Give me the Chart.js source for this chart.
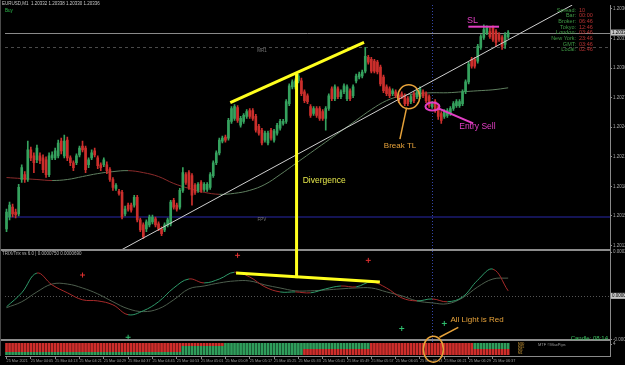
<!DOCTYPE html>
<html>
<head>
<meta charset="utf-8">
<script src="https://cdn.jsdelivr.net/npm/chart.js@4.4.1/dist/chart.umd.min.js"></script>
<style>
  html, body { margin: 0; padding: 0; background: #000; }
  #wrap { width: 625px; height: 365px; position: relative; }
</style>
</head>
<body>
<div id="wrap"><canvas id="chart"></canvas></div>
<script>
// ---- EURUSD M1 candles ----
const openP = [1.20137,1.20149,1.20159,1.20154,1.20152,1.20187,1.20192,1.20187,1.20217,1.20211,
1.20207,1.20211,1.20209,1.20207,1.20192,1.20209,1.20209,1.20211,1.20226,1.20211,
1.20227,1.20209,1.20204,1.20204,1.20212,1.20221,1.20219,1.20202,1.20209,1.20216,
1.20209,1.20202,1.20202,1.20202,1.20197,1.20187,1.20178,1.20175,1.20174,1.20152,
1.20161,1.20161,1.20161,1.20169,1.20146,1.20141,1.20137,1.20141,1.20144,1.20147,
1.20142,1.20137,1.20136,1.20141,1.20142,1.20166,1.20161,1.20159,1.20176,1.20192,
1.20194,1.20191,1.20181,1.20176,1.20184,1.20177,1.20177,1.20179,1.20191,1.20204,
1.20214,1.20226,1.20230,1.20229,1.20246,1.20249,1.20260,1.20242,1.20246,1.20251,
1.20257,1.20257,1.20251,1.20241,1.20237,1.20227,1.20224,1.20237,1.20227,1.20234,
1.20239,1.20244,1.20246,1.20264,1.20281,1.20281,1.20287,1.20287,1.20276,1.20272,
1.20261,1.20254,1.20259,1.20259,1.20256,1.20249,1.20259,1.20279,1.20269,1.20279,
1.20271,1.20276,1.20269,1.20277,1.20272,1.20287,1.20291,1.20292,1.20297,1.20311,
1.20309,1.20307,1.20306,1.20301,1.20291,1.20281,1.20279,1.20274,1.20276,1.20272,
1.20274,1.20272,1.20269,1.20266,1.20274,1.20271,1.20271,1.20276,1.20274,1.20271,
1.20261,1.20266,1.20261,1.20254,1.20251,1.20252,1.20254,1.20259,1.20262,1.20262,
1.20264,1.20276,1.20286,1.20309,1.20309,1.20307,1.20321,1.20331,1.20336,1.20337,
1.20341,1.20337,1.20334,1.20331,1.20324,1.20332];
const highP = [1.20157,1.20164,1.20162,1.20157,1.20182,1.20202,1.20195,1.20226,1.20220,1.20214,
1.20222,1.20214,1.20212,1.20210,1.20214,1.20215,1.20219,1.20227,1.20229,1.20232,
1.20230,1.20211,1.20206,1.20213,1.20221,1.20226,1.20221,1.20209,1.20217,1.20219,
1.20211,1.20204,1.20209,1.20205,1.20199,1.20189,1.20183,1.20177,1.20176,1.20160,
1.20163,1.20163,1.20171,1.20171,1.20148,1.20143,1.20146,1.20151,1.20151,1.20149,
1.20144,1.20139,1.20143,1.20148,1.20166,1.20168,1.20163,1.20178,1.20199,1.20194,
1.20196,1.20193,1.20183,1.20184,1.20186,1.20184,1.20184,1.20194,1.20206,1.20216,
1.20229,1.20231,1.20232,1.20249,1.20261,1.20263,1.20262,1.20251,1.20254,1.20258,
1.20259,1.20259,1.20253,1.20243,1.20239,1.20236,1.20236,1.20239,1.20238,1.20244,
1.20248,1.20248,1.20268,1.20284,1.20288,1.20289,1.20294,1.20290,1.20278,1.20274,
1.20263,1.20261,1.20261,1.20261,1.20258,1.20261,1.20274,1.20281,1.20283,1.20281,
1.20278,1.20284,1.20283,1.20279,1.20283,1.20294,1.20296,1.20298,1.20321,1.20313,
1.20311,1.20309,1.20308,1.20303,1.20293,1.20283,1.20281,1.20279,1.20278,1.20274,
1.20276,1.20274,1.20271,1.20273,1.20276,1.20278,1.20281,1.20278,1.20276,1.20273,
1.20266,1.20268,1.20263,1.20256,1.20258,1.20259,1.20261,1.20266,1.20268,1.20268,
1.20278,1.20288,1.20306,1.20311,1.20311,1.20324,1.20334,1.20344,1.20343,1.20341,
1.20343,1.20339,1.20336,1.20333,1.20336,1.20338];
const lowP = [1.20134,1.20146,1.20149,1.20148,1.20150,1.20184,1.20184,1.20185,1.20206,1.20194,
1.20204,1.20203,1.20194,1.20189,1.20190,1.20207,1.20207,1.20209,1.20213,1.20209,
1.20206,1.20201,1.20196,1.20202,1.20210,1.20215,1.20194,1.20199,1.20207,1.20210,
1.20198,1.20196,1.20200,1.20193,1.20185,1.20176,1.20176,1.20171,1.20147,1.20150,
1.20155,1.20154,1.20159,1.20144,1.20134,1.20127,1.20134,1.20139,1.20142,1.20139,
1.20135,1.20130,1.20134,1.20139,1.20140,1.20157,1.20155,1.20157,1.20174,1.20182,
1.20177,1.20161,1.20172,1.20174,1.20174,1.20175,1.20175,1.20177,1.20189,1.20202,
1.20212,1.20224,1.20225,1.20227,1.20244,1.20247,1.20245,1.20240,1.20244,1.20249,
1.20249,1.20247,1.20235,1.20232,1.20222,1.20225,1.20222,1.20227,1.20225,1.20232,
1.20237,1.20242,1.20244,1.20262,1.20279,1.20279,1.20285,1.20272,1.20265,1.20264,
1.20250,1.20252,1.20250,1.20247,1.20247,1.20237,1.20257,1.20267,1.20267,1.20269,
1.20269,1.20274,1.20267,1.20267,1.20270,1.20285,1.20289,1.20290,1.20295,1.20304,
1.20295,1.20295,1.20294,1.20282,1.20275,1.20272,1.20270,1.20272,1.20270,1.20265,
1.20269,1.20262,1.20262,1.20264,1.20265,1.20269,1.20269,1.20270,1.20265,1.20260,
1.20259,1.20255,1.20248,1.20244,1.20249,1.20250,1.20252,1.20257,1.20260,1.20260,
1.20262,1.20274,1.20284,1.20300,1.20300,1.20305,1.20319,1.20329,1.20334,1.20330,
1.20327,1.20322,1.20327,1.20319,1.20320,1.20330];
const closeP = [1.20154,1.20161,1.20152,1.20151,1.20179,1.20199,1.20187,1.20217,1.20209,1.20204,
1.20219,1.20206,1.20197,1.20192,1.20211,1.20212,1.20216,1.20224,1.20216,1.20226,
1.20209,1.20204,1.20199,1.20211,1.20219,1.20217,1.20197,1.20207,1.20214,1.20212,
1.20201,1.20199,1.20207,1.20196,1.20187,1.20179,1.20181,1.20173,1.20149,1.20157,
1.20157,1.20156,1.20169,1.20146,1.20136,1.20129,1.20144,1.20149,1.20149,1.20141,
1.20137,1.20132,1.20141,1.20146,1.20164,1.20159,1.20157,1.20176,1.20194,1.20184,
1.20179,1.20171,1.20174,1.20182,1.20176,1.20182,1.20182,1.20192,1.20204,1.20214,
1.20227,1.20229,1.20227,1.20247,1.20259,1.20261,1.20247,1.20249,1.20252,1.20256,
1.20251,1.20249,1.20237,1.20234,1.20224,1.20234,1.20234,1.20229,1.20236,1.20242,
1.20246,1.20246,1.20266,1.20282,1.20286,1.20287,1.20292,1.20274,1.20267,1.20266,
1.20252,1.20259,1.20252,1.20249,1.20249,1.20259,1.20272,1.20269,1.20281,1.20271,
1.20276,1.20282,1.20281,1.20269,1.20281,1.20292,1.20294,1.20296,1.20312,1.20306,
1.20297,1.20297,1.20296,1.20284,1.20277,1.20274,1.20272,1.20277,1.20272,1.20267,
1.20271,1.20264,1.20264,1.20271,1.20267,1.20276,1.20279,1.20272,1.20267,1.20262,
1.20264,1.20257,1.20251,1.20247,1.20256,1.20257,1.20259,1.20264,1.20266,1.20266,
1.20276,1.20286,1.20304,1.20302,1.20302,1.20322,1.20332,1.20339,1.20341,1.20332,
1.20329,1.20326,1.20329,1.20322,1.20334,1.20336];

// moving average, one value every 5 bars
const maStep = 5;
const maValues = [1.20189,1.20188,1.20187,1.20186,1.20187,1.20190,1.20193,1.20195,1.20196,1.20194,
1.20190,1.20183,1.20178,1.20174,1.20172,1.20173,1.20176,1.20182,1.20192,1.20203,
1.20214,1.20225,1.20236,1.20247,1.20258,1.20267,1.20272,1.20274,1.20275,1.20275,
1.20276,1.20277,1.20278,1.20280];

// TRIX window, one value every 5 bars
const trixStep = 5;
const trixFast = [-0.000050,0.000014,0.000104,0.000050,0.000014,-0.000018,-0.000023,-0.000041,-0.000086,-0.000068,
-0.000027,0.000036,0.000077,0.000059,0.000077,0.000108,0.000086,0.000041,0.000018,0.000018,
0.000014,0.000032,0.000045,0.000041,0.000063,0.000036,-0.000009,-0.000023,-0.000014,-0.000027,
-0.000005,0.000072,0.000122,0.000023];
const trixSlow = [-0.000054,-0.000027,0.000018,0.000054,0.000054,0.000036,0.000009,-0.000027,-0.000059,-0.000072,
-0.000059,-0.000018,0.000032,0.000045,0.000059,0.000068,0.000068,0.000050,0.000036,0.000023,
0.000023,0.000027,0.000032,0.000036,0.000036,0.000018,0,-0.000023,-0.000032,-0.000036,
-0.000009,0.000041,0.000077,0.000081];
const sellBars = [25, 76, 119];
const sellVals = [0.000095, 0.000185, 0.000162];
const buyBars = [40, 130, 144];
const buyVals = [-0.000189, -0.000149, -0.000126];

// MTF light strip, runs of [colour, bars], bottom row first
const mtfRuns = [
  [['g', 98], ['r', 68]],
  [['r', 58], ['g', 40], ['r', 68]],
  [['r', 58], ['g', 62], ['r', 34], ['g', 12]],
  [['r', 72], ['g', 48], ['r', 34], ['g', 12]]
];
const mtfNames = ['M1', 'M5', 'M15', 'M30'];

// axes
const priceTicks = [1.20360,1.20345,1.20330,1.20315,1.20300,1.20285,1.20270,1.20255,1.20240,
1.20225,1.20210,1.20195,1.20180,1.20165,1.20150,1.20135,1.20120];
const trixTicks = [0.0002, 0, -0.0002];
const timeLabels = ['25 Mar 2021','25 Mar 04:05','25 Mar 04:13','25 Mar 04:21','25 Mar 04:29',
'25 Mar 04:37','25 Mar 04:45','25 Mar 04:53','25 Mar 05:01','25 Mar 05:09','25 Mar 05:17',
'25 Mar 05:25','25 Mar 05:33','25 Mar 05:41','25 Mar 05:49','25 Mar 05:57','25 Mar 06:05',
'25 Mar 06:13','25 Mar 06:21','25 Mar 06:29','25 Mar 06:37'];
const labelEvery = 8;

// levels and drawn objects
const mr1Level = 1.20321;
const fpvLevel = 1.20149;
const trendLine = [{x: 38, y: 1.20116}, {x: 186.1, y: 1.20364}];
const sepBar = 140;

const titleText = 'EURUSD,M1  1.20332 1.20338 1.20330 1.20336';
const trixTitle = 'TRIX/Trix vs 6.0 | 0.0000750 0.0000690';
const infoNames = ['Spread:', 'Bar:', 'Broker:', 'Tokyo:', 'London:', 'New York:', 'GMT:', 'Local:'];
const infoValues = ['10', '00:00', '06:46', '12:46', '03:46', '23:46', '03:46', '02:46'];

const upCol = '#35a25e', dnCol = '#cc2f2c';
const FONT = '"Liberation Sans", Arial, sans-serif';

const candleCols = openP.map((o, i) => closeP[i] >= o ? upCol : dnCol);
const bodies = openP.map((o, i) => ({x: i, y: [o, closeP[i]]}));
const wicks = openP.map((o, i) => ({x: i, y: [lowP[i], highP[i]]}));
const maPts = maValues.map((v, i) => ({x: i * maStep, y: v}));
const fastPts = trixFast.map((v, i) => ({x: i * trixStep, y: v}));
const slowPts = trixSlow.map((v, i) => ({x: i * trixStep, y: v}));

function expandRuns(runs) {
  const out = [];
  runs.forEach(([c, n]) => { for (let k = 0; k < n; k++) out.push(c); });
  return out;
}

const mtfSets = mtfRuns.map((runs, r) => {
  const cols = expandRuns(runs);
  return {
    type: 'bar', yAxisID: 'y3', grouped: false, barThickness: 2, order: 5,
    data: cols.map((c, i) => ({x: i, y: [r + 0.45, r + 1.25]})),
    backgroundColor: cols.map(c => c === 'r' ? '#cf2e2b' : '#2f9d5b')
  };
});

function seg(ctx, x1, y1, x2, y2) {
  ctx.beginPath(); ctx.moveTo(x1, y1); ctx.lineTo(x2, y2); ctx.stroke();
}
function txt(ctx, s, x, y, size, color, align) {
  ctx.font = size + 'px ' + FONT;
  ctx.fillStyle = color;
  ctx.textAlign = align || 'left';
  ctx.textBaseline = 'middle';
  ctx.fillText(s, x, y);
}
function ellipse(ctx, cx, cy, rx, ry) {
  ctx.beginPath(); ctx.ellipse(cx, cy, rx, ry, 0, 0, Math.PI * 2); ctx.stroke();
}

const overlay = {
  id: 'overlay',
  beforeDatasetsDraw(chart) {
    const {ctx, chartArea: a, scales: s} = chart;
    ctx.save();
    ctx.lineWidth = 1;
    // MR1 dotted level
    ctx.strokeStyle = '#4a4a4a'; ctx.setLineDash([3, 3]);
    const yM = Math.round(s.y.getPixelForValue(mr1Level)) + 0.5;
    seg(ctx, a.left, yM, a.right, yM);
    // zero level of the TRIX window
    ctx.strokeStyle = '#555'; ctx.setLineDash([1, 2]);
    const y0 = Math.round(s.y2.getPixelForValue(0)) + 0.5;
    seg(ctx, a.left, y0, a.right, y0);
    // period separator
    ctx.strokeStyle = '#3346a8';
    const xs = Math.round(s.x.getPixelForValue(sepBar)) + 0.5;
    seg(ctx, xs, a.top, xs, a.bottom);
    ctx.setLineDash([]);
    // FPV level
    ctx.strokeStyle = '#1b1b72'; ctx.lineWidth = 1.5;
    const yF = s.y.getPixelForValue(fpvLevel);
    seg(ctx, a.left, yF, a.right, yF);
    // bid line
    ctx.strokeStyle = '#8a8a8a'; ctx.lineWidth = 1;
    const yB = Math.round(s.y.getPixelForValue(closeP[closeP.length - 1])) + 0.5;
    seg(ctx, a.left, yB, a.right, yB);
    txt(ctx, 'MR1', s.x.getPixelForValue(84), yM + 3, 4.5, '#777', 'center');
    txt(ctx, 'FPV', s.x.getPixelForValue(84), yF + 3, 4.5, '#777', 'center');
    ctx.restore();
  },
  afterDraw(chart) {
    const {ctx, chartArea: a, scales: s} = chart;
    const X = v => s.x.getPixelForValue(v);
    const P = v => s.y.getPixelForValue(v);
    const I = v => s.y2.getPixelForValue(v);
    const L = v => s.y3.getPixelForValue(v);
    ctx.save();
    // window frames
    ctx.fillStyle = '#8c8c8c';
    ctx.fillRect(0, Math.round(s.y.bottom) - 1, a.right, 2);
    ctx.fillRect(0, Math.round(s.y2.bottom) - 1, a.right, 2);
    ctx.fillStyle = '#4a4a4a';
    ctx.fillRect(0, 0, 1, a.bottom);

    // titles
    txt(ctx, titleText, 2, 4, 4.5, '#c8c8c8');
    txt(ctx, 'Buy', 5, 10.5, 4.5, '#2fbf4f');
    txt(ctx, trixTitle, 2, s.y2.top + 4, 4.5, '#b8b8b8');

    // price label highlight
    const last = closeP[closeP.length - 1];
    const yB = P(last);
    ctx.fillStyle = '#c4c4c4';
    ctx.fillRect(a.right + 1, yB - 3, 15, 6);
    txt(ctx, last.toFixed(5), a.right + 2, yB, 4.5, '#000');
    const y0 = I(0);
    ctx.fillStyle = '#c4c4c4';
    ctx.fillRect(a.right + 1, y0 - 3, 15, 6);
    txt(ctx, '0.00000', a.right + 2, y0, 4.5, '#000');

    // info block
    infoNames.forEach((n, i) => {
      const yy = 10 + i * 5.7;
      txt(ctx, n, 576, yy, 5.5, '#3f9a45', 'right');
      txt(ctx, infoValues[i], 579, yy, 5.5, '#b83232');
    });
    txt(ctx, 'Candle: 08:14', 608, I(-0.000192), 6, '#3cc060', 'right');
    mtfNames.forEach((n, r) => txt(ctx, n, 518, L(r + 0.85), 3.2, '#d9a23a'));
    txt(ctx, 'MTF \u00a9MaxPips', 538, L(3.6), 4, '#9a9a9a');

    // yellow divergence drawing
    ctx.strokeStyle = '#ffff1e'; ctx.lineWidth = 3; ctx.lineCap = 'butt';
    seg(ctx, X(73.6), P(1.20265), X(117.6), P(1.20326));
    seg(ctx, X(95.4), P(1.20295), X(95.4), I(0.000081));
    seg(ctx, X(75.5), I(0.000104), X(122.8), I(0.000063));
    txt(ctx, 'Divergence', X(97.4), P(1.20186), 8.5, '#e6e84a');

    // break of trend line
    ctx.strokeStyle = '#e6a23a'; ctx.lineWidth = 1.5;
    ellipse(ctx, X(132.3), P(1.20271), 11, 12);
    seg(ctx, X(131.6), P(1.20260), X(129.4), P(1.20228));
    txt(ctx, 'Break TL', X(124.1), P(1.20221), 8, '#e6a23a');

    // entry sell + stop loss
    ctx.strokeStyle = '#e23fc4'; ctx.lineWidth = 2;
    ellipse(ctx, X(140.1), P(1.20261), 7, 4);
    seg(ctx, X(142.1), P(1.20259), X(153.5), P(1.20244));
    txt(ctx, 'Entry Sell', X(148.9), P(1.20241), 8.5, '#e23fc4');
    seg(ctx, X(151.9), P(1.20342), X(162), P(1.20342));
    txt(ctx, 'SL', X(151.5), P(1.20348), 9, '#e23fc4');

    // all lights red
    ctx.strokeStyle = '#e6a23a'; ctx.lineWidth = 1.5;
    ellipse(ctx, X(140.4), L(2.3), 10, 13);
    seg(ctx, X(142.4), I(-0.000189), X(148.6), I(-0.000144));
    txt(ctx, 'All Light is Red', X(146), I(-0.000108), 8, '#e6a23a');
    ctx.restore();
  }
};

const gridTick = {drawOnChartArea: false, drawTicks: true, tickLength: 2, color: '#8a8a8a', offset: false};
const tickFont = {family: FONT, size: 4.5};

new Chart(document.getElementById('chart'), {
  type: 'bar',
  data: {
    datasets: [
      {type: 'line', data: trendLine, yAxisID: 'y', borderColor: '#cfcfcf', borderWidth: 1, pointRadius: 0, order: -1},
      {type: 'bar', data: bodies, yAxisID: 'y', backgroundColor: candleCols, barThickness: 2, minBarLength: 1, grouped: false, order: 0},
      {type: 'bar', data: wicks, yAxisID: 'y', backgroundColor: candleCols, barThickness: 1, grouped: false, order: 1},
      {type: 'line', data: maPts, yAxisID: 'y', borderWidth: 1, pointRadius: 0, tension: 0.4, order: 2,
        segment: {borderColor: c => c.p1.parsed.y >= c.p0.parsed.y ? '#5f7f5f' : '#8c2b2b'}},
      {type: 'line', data: slowPts, yAxisID: 'y2', borderColor: '#4d5e4d', borderWidth: 1, pointRadius: 0, tension: 0.4, order: 3},
      {type: 'line', data: fastPts, yAxisID: 'y2', borderWidth: 1, pointRadius: 0, tension: 0.4, order: 2,
        segment: {borderColor: c => c.p1.parsed.y >= c.p0.parsed.y ? '#2f9a6a' : '#a82a2a'}},
      {type: 'line', data: sellBars.map((b, i) => ({x: b, y: sellVals[i]})), yAxisID: 'y2', showLine: false,
        pointStyle: 'cross', pointRadius: 2.5, borderColor: '#e03030', borderWidth: 1, order: 1},
      {type: 'line', data: buyBars.map((b, i) => ({x: b, y: buyVals[i]})), yAxisID: 'y2', showLine: false,
        pointStyle: 'cross', pointRadius: 2.5, borderColor: '#30c070', borderWidth: 1, order: 1},
      ...mtfSets
    ]
  },
  options: {
    responsive: true,
    maintainAspectRatio: false,
    animation: false,
    devicePixelRatio: 1,
    layout: {padding: 0},
    plugins: {legend: {display: false}, tooltip: {enabled: false}},
    scales: {
      x: {
        type: 'linear', min: -0.5, max: 198.5, offset: false,
        afterFit: sc => { sc.height = 9; },
        afterBuildTicks: sc => { sc.ticks = timeLabels.map((t, i) => ({value: i * labelEvery})); },
        grid: {drawOnChartArea: false, drawTicks: true, tickLength: 3, color: '#8a8a8a', offset: false},
        border: {display: true, color: '#8a8a8a'},
        ticks: {font: {family: FONT, size: 3.8}, color: '#9c9c9c', align: 'start', padding: 0, maxRotation: 0, autoSkip: false,
          callback: (v, i) => timeLabels[i]}
      },
      y: {
        type: 'linear', position: 'right', stack: 'win', stackWeight: 248,
        min: 1.20116, max: 1.20364,
        afterFit: sc => { sc.width = 15; },
        afterBuildTicks: sc => { sc.ticks = priceTicks.map(v => ({value: v})); },
        grid: gridTick, border: {display: true, color: '#8a8a8a'},
        ticks: {font: tickFont, color: '#a8a8a8', padding: 1, callback: v => Number(v).toFixed(5)}
      },
      y2: {
        type: 'linear', position: 'right', stack: 'win', stackWeight: 92,
        min: -0.0002025, max: 0.0002115,
        afterFit: sc => { sc.width = 15; },
        afterBuildTicks: sc => { sc.ticks = trixTicks.map(v => ({value: v})); },
        grid: gridTick, border: {display: true, color: '#8a8a8a'},
        ticks: {font: tickFont, color: '#a8a8a8', padding: 1, callback: v => Number(v).toFixed(5)}
      },
      y3: {
        type: 'linear', position: 'right', stack: 'win', stackWeight: 16,
        min: 0, max: 5.3,
        afterFit: sc => { sc.width = 15; },
        afterBuildTicks: sc => { sc.ticks = [{value: 4}, {value: 0}]; },
        grid: gridTick, border: {display: true, color: '#8a8a8a'},
        ticks: {font: tickFont, color: '#a8a8a8', padding: 1, callback: v => String(v)}
      }
    }
  },
  plugins: [overlay]
});
</script>
</body>
</html>
